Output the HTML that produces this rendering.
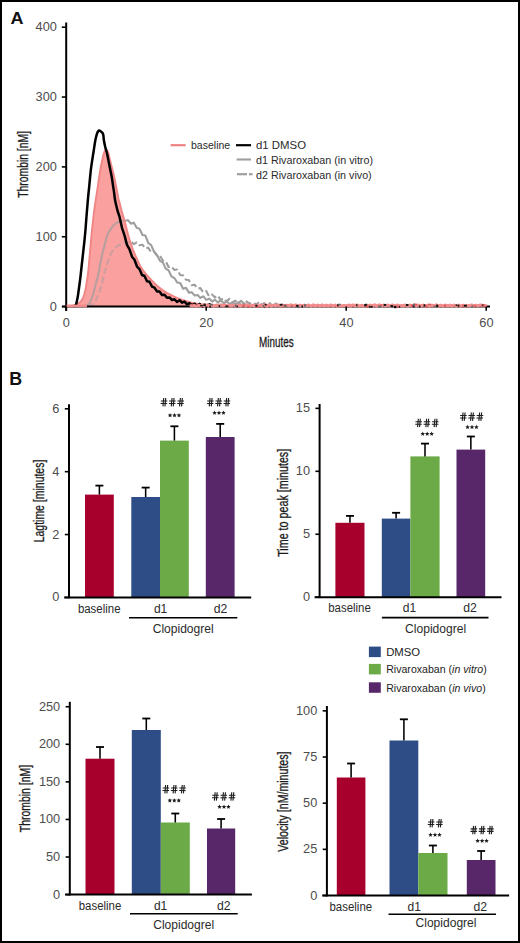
<!DOCTYPE html><html><head><meta charset="utf-8"><style>html,body{margin:0;padding:0;background:#fff;}svg{display:block;}text{font-family:"Liberation Sans",sans-serif;}</style></head><body>
<svg width="520" height="943" viewBox="0 0 520 943">
<rect x="0" y="0" width="520" height="943" fill="#fff"/>
<text x="10.4" y="23.8" font-size="17" text-anchor="start" font-weight="bold" fill="#111" textLength="13" lengthAdjust="spacingAndGlyphs">A</text>
<text x="9.3" y="384.6" font-size="17.6" text-anchor="start" font-weight="bold" fill="#111" textLength="12.9" lengthAdjust="spacingAndGlyphs">B</text>
<path d="M84.5 306.1 C84.75 306.03 85.42 305.95 86 305.7 C86.58 305.45 87.35 305.08 88 304.6 C88.65 304.12 89.3 303.8 89.9 302.8 C90.5 301.8 91.03 300.08 91.6 298.6 C92.17 297.12 92.6 296.33 93.3 293.9 C94 291.47 94.97 287.28 95.8 284 C96.63 280.72 97.57 277.48 98.3 274.2 C99.03 270.92 99.55 267.6 100.2 264.3 C100.85 261 101.45 257.68 102.2 254.4 C102.95 251.12 103.8 247.88 104.7 244.6 C105.6 241.32 106.45 237.5 107.6 234.7 C108.75 231.9 110.12 229.77 111.6 227.8 C113.08 225.83 114.88 224.03 116.5 222.9 C118.12 221.77 119.58 221.4 121.3 221 C123.02 220.6 125.88 220.58 126.8 220.5 L128 220.15 L130.9 223.63 L133.8 222.66 L136.7 227.73 L139.6 228.86 L142.5 235.05 L145.4 235.55 L148.3 243 L151.2 245.16 L154.1 251.94 L157 255 L159.9 260.82 L162.8 262.42 L165.7 268.61 L168.6 270.4 L171.5 276.43 L174.4 278.05 L177.3 282.58 L180.2 282.93 L183.1 288.73 L186 287.8 L188.9 292.64 L191.8 292.27 L194.7 295.58 L197.6 294.9 L200.5 297.9 L203.4 296.29 L206.3 299.89 L209.2 298.61 L212.1 301.56 L215 299.62 L217.9 302.63 L220.8 300.11 L223.7 303.17 L226.6 301.36 L229.5 304.1 L232.4 302.45 L235.3 304.35 L238.2 302.34 L241.1 305.33 L244 303 L246.9 305.68 L249.8 303.15 L252.7 306.88 L255.6 303.71 L258.5 307 L261.4 304.22 L264.3 307.17 L267.2 304.9 L270.1 306.95" fill="none" stroke="#9E9E9E" stroke-width="2.1" stroke-linejoin="round"/>
<path d="M88 306.1 C88.48 306.02 90.07 305.95 90.9 305.6 C91.73 305.25 92.35 304.63 93 304 C93.65 303.37 94.15 302.8 94.8 301.8 C95.45 300.8 96.23 299.32 96.9 298 C97.57 296.68 98 296.23 98.8 293.9 C99.6 291.57 100.8 287.28 101.7 284 C102.6 280.72 103.45 276.98 104.2 274.2 C104.95 271.42 105.47 269.77 106.2 267.3 C106.93 264.83 107.7 261.87 108.6 259.4 C109.5 256.93 110.28 254.63 111.6 252.5 C112.92 250.37 114.53 248.17 116.5 246.6 C118.47 245.03 122.25 243.68 123.4 243.1 L125 242.18 L127.9 243.08 L130.8 241.25 L133.7 244.15 L136.6 242.54 L139.5 245.18 L142.4 244.69 L145.3 248.4 L148.2 247.67 L151.1 252.22 L154 251.38 L156.9 255.53 L159.8 255.35 L162.7 260.41 L165.6 261.02 L168.5 266.97 L171.4 266.49 L174.3 269.92 L177.2 269.55 L180.1 274.92 L183 275.35 L185.9 279.7 L188.8 280.02 L191.7 285.26 L194.6 284.71 L197.5 288.65 L200.4 288.14 L203.3 292.52 L206.2 291.11 L209.1 296.31 L212 294.51 L214.9 297.35 L217.8 295.56 L220.7 299.95 L223.6 298.34 L226.5 301.37 L229.4 298.85 L232.3 302.53 L235.2 300.68 L238.1 303.64 L241 300.85 L243.9 303.52 L246.8 301.48 L249.7 303.98 L252.6 302.57 L255.5 304.58 L258.4 302.83 L261.3 305.34 L264.2 303.06 L267.1 306.42 L270 303.17 L272.9 306.96 L275.8 303.37 L278.7 306.96 L281.6 304.43 L284.5 306.36 L287.4 304.18" fill="none" stroke="#9E9E9E" stroke-width="2.1" stroke-dasharray="6.5 3" stroke-linejoin="round"/>
<defs><clipPath id="pk"><path d="M66 305.8 C66.83 305.78 69.42 305.83 71 305.7 C72.58 305.57 74.2 305.4 75.5 305 C76.8 304.6 77.82 304.03 78.8 303.3 C79.78 302.57 80.63 301.65 81.4 300.6 C82.17 299.55 82.72 298.85 83.4 297 C84.08 295.15 84.87 292.5 85.5 289.5 C86.13 286.5 86.72 282.25 87.2 279 C87.68 275.75 88.07 273 88.4 270 C88.73 267 88.93 264 89.2 261 C89.47 258 89.73 255 90 252 C90.27 249 90.53 246 90.8 243 C91.07 240 91.32 236.92 91.6 234 C91.88 231.08 92.18 228.45 92.5 225.5 C92.82 222.55 93.13 219.42 93.5 216.3 C93.87 213.18 94.27 209.97 94.7 206.8 C95.13 203.63 95.62 200.43 96.1 197.3 C96.58 194.17 97.12 191.22 97.6 188 C98.08 184.78 98.52 181.23 99 178 C99.48 174.77 99.97 171.6 100.5 168.6 C101.03 165.6 101.65 162.52 102.2 160 C102.75 157.48 103.35 155.07 103.8 153.5 C104.25 151.93 104.55 151.23 104.9 150.6 C105.25 149.97 105.57 149.73 105.9 149.7 C106.23 149.67 106.52 149.88 106.9 150.4 C107.28 150.92 107.65 151.07 108.2 152.8 C108.75 154.53 109.53 158.13 110.2 160.8 C110.87 163.47 111.53 166.15 112.2 168.8 C112.87 171.45 113.6 174.05 114.2 176.7 C114.8 179.35 115.28 182.05 115.8 184.7 C116.32 187.35 116.85 190.22 117.3 192.6 C117.75 194.98 118.1 197.27 118.5 199 C118.9 200.73 119.17 201.02 119.7 203 C120.23 204.98 120.98 208.25 121.7 210.9 C122.42 213.55 123.27 216.25 124 218.9 C124.73 221.55 125.42 224.15 126.1 226.8 C126.78 229.45 127.37 232.15 128.1 234.8 C128.83 237.45 129.63 240.05 130.5 242.7 C131.37 245.35 132.25 248.05 133.3 250.7 C134.35 253.35 135.62 256.02 136.8 258.6 C137.98 261.18 139.07 263.85 140.4 266.2 C141.73 268.55 142.92 270.33 144.8 272.7 C146.68 275.07 149.3 277.92 151.7 280.4 C154.1 282.88 156.82 285.6 159.2 287.6 C161.58 289.6 163.7 291 166 292.4 C168.3 293.8 170.75 294.93 173 296 C175.25 297.07 177.42 298 179.5 298.8 C181.58 299.6 183.58 300.18 185.5 300.8 C187.42 301.42 189.2 302.02 191 302.5 C192.8 302.98 193.97 303.32 196.3 303.7 C198.63 304.08 201.88 304.53 205 304.8 C208.12 305.07 209.17 305.17 215 305.3 C220.83 305.43 235.83 305.55 240 305.6 L242 304.93 L245 306.14 L248 304.65 L251 306.08 L254 304.9 L257 306.15 L260 305.09 L263 306.11 L266 304.82 L269 306.28 L272 305.14 L275 305.98 L278 305.15 L281 306.29 L284 304.78 L287 305.83 L290 304.61 L293 306.38 L296 304.81 L299 306.17 L302 305.11 L305 305.81 L308 304.88 L311 305.84 L314 305.09 L317 305.95 L320 305.18 L323 306.08 L326 304.94 L329 306.31 L332 304.89 L335 306.18 L338 304.9 L341 306.2 L344 304.93 L347 305.97 L350 304.6 L353 306.4 L356 304.7 L359 306.22 L362 305.01 L365 305.94 L368 305.03 L371 305.84 L374 304.74 L377 306.04 L380 304.69 L383 306.03 L386 304.63 L389 306.31 L392 305.2 L395 305.93 L398 304.65 L401 306.08 L404 304.61 L407 306.04 L410 305.16 L413 306.18 L416 304.73 L419 305.96 L422 305.15 L425 306 L428 304.62 L431 306.25 L434 305.13 L437 305.95 L440 305.14 L443 305.84 L446 304.72 L449 305.91 L452 304.86 L455 306.07 L458 305.09 L461 306.24 L464 305.12 L467 306.19 L470 305.13 L473 306.05 L476 305.07 L479 305.96 L482 304.62 L485 306.28 L487 306.3 L66 306.3 Z"/></clipPath></defs>
<path d="M66 305.8 C66.83 305.78 69.42 305.83 71 305.7 C72.58 305.57 74.2 305.4 75.5 305 C76.8 304.6 77.82 304.03 78.8 303.3 C79.78 302.57 80.63 301.65 81.4 300.6 C82.17 299.55 82.72 298.85 83.4 297 C84.08 295.15 84.87 292.5 85.5 289.5 C86.13 286.5 86.72 282.25 87.2 279 C87.68 275.75 88.07 273 88.4 270 C88.73 267 88.93 264 89.2 261 C89.47 258 89.73 255 90 252 C90.27 249 90.53 246 90.8 243 C91.07 240 91.32 236.92 91.6 234 C91.88 231.08 92.18 228.45 92.5 225.5 C92.82 222.55 93.13 219.42 93.5 216.3 C93.87 213.18 94.27 209.97 94.7 206.8 C95.13 203.63 95.62 200.43 96.1 197.3 C96.58 194.17 97.12 191.22 97.6 188 C98.08 184.78 98.52 181.23 99 178 C99.48 174.77 99.97 171.6 100.5 168.6 C101.03 165.6 101.65 162.52 102.2 160 C102.75 157.48 103.35 155.07 103.8 153.5 C104.25 151.93 104.55 151.23 104.9 150.6 C105.25 149.97 105.57 149.73 105.9 149.7 C106.23 149.67 106.52 149.88 106.9 150.4 C107.28 150.92 107.65 151.07 108.2 152.8 C108.75 154.53 109.53 158.13 110.2 160.8 C110.87 163.47 111.53 166.15 112.2 168.8 C112.87 171.45 113.6 174.05 114.2 176.7 C114.8 179.35 115.28 182.05 115.8 184.7 C116.32 187.35 116.85 190.22 117.3 192.6 C117.75 194.98 118.1 197.27 118.5 199 C118.9 200.73 119.17 201.02 119.7 203 C120.23 204.98 120.98 208.25 121.7 210.9 C122.42 213.55 123.27 216.25 124 218.9 C124.73 221.55 125.42 224.15 126.1 226.8 C126.78 229.45 127.37 232.15 128.1 234.8 C128.83 237.45 129.63 240.05 130.5 242.7 C131.37 245.35 132.25 248.05 133.3 250.7 C134.35 253.35 135.62 256.02 136.8 258.6 C137.98 261.18 139.07 263.85 140.4 266.2 C141.73 268.55 142.92 270.33 144.8 272.7 C146.68 275.07 149.3 277.92 151.7 280.4 C154.1 282.88 156.82 285.6 159.2 287.6 C161.58 289.6 163.7 291 166 292.4 C168.3 293.8 170.75 294.93 173 296 C175.25 297.07 177.42 298 179.5 298.8 C181.58 299.6 183.58 300.18 185.5 300.8 C187.42 301.42 189.2 302.02 191 302.5 C192.8 302.98 193.97 303.32 196.3 303.7 C198.63 304.08 201.88 304.53 205 304.8 C208.12 305.07 209.17 305.17 215 305.3 C220.83 305.43 235.83 305.55 240 305.6 L242 304.93 L245 306.14 L248 304.65 L251 306.08 L254 304.9 L257 306.15 L260 305.09 L263 306.11 L266 304.82 L269 306.28 L272 305.14 L275 305.98 L278 305.15 L281 306.29 L284 304.78 L287 305.83 L290 304.61 L293 306.38 L296 304.81 L299 306.17 L302 305.11 L305 305.81 L308 304.88 L311 305.84 L314 305.09 L317 305.95 L320 305.18 L323 306.08 L326 304.94 L329 306.31 L332 304.89 L335 306.18 L338 304.9 L341 306.2 L344 304.93 L347 305.97 L350 304.6 L353 306.4 L356 304.7 L359 306.22 L362 305.01 L365 305.94 L368 305.03 L371 305.84 L374 304.74 L377 306.04 L380 304.69 L383 306.03 L386 304.63 L389 306.31 L392 305.2 L395 305.93 L398 304.65 L401 306.08 L404 304.61 L407 306.04 L410 305.16 L413 306.18 L416 304.73 L419 305.96 L422 305.15 L425 306 L428 304.62 L431 306.25 L434 305.13 L437 305.95 L440 305.14 L443 305.84 L446 304.72 L449 305.91 L452 304.86 L455 306.07 L458 305.09 L461 306.24 L464 305.12 L467 306.19 L470 305.13 L473 306.05 L476 305.07 L479 305.96 L482 304.62 L485 306.28 L487 306.3 L66 306.3 Z" fill="#FAA09F"/>
<g clip-path="url(#pk)" opacity="0.72">
<path d="M84.5 306.1 C84.75 306.03 85.42 305.95 86 305.7 C86.58 305.45 87.35 305.08 88 304.6 C88.65 304.12 89.3 303.8 89.9 302.8 C90.5 301.8 91.03 300.08 91.6 298.6 C92.17 297.12 92.6 296.33 93.3 293.9 C94 291.47 94.97 287.28 95.8 284 C96.63 280.72 97.57 277.48 98.3 274.2 C99.03 270.92 99.55 267.6 100.2 264.3 C100.85 261 101.45 257.68 102.2 254.4 C102.95 251.12 103.8 247.88 104.7 244.6 C105.6 241.32 106.45 237.5 107.6 234.7 C108.75 231.9 110.12 229.77 111.6 227.8 C113.08 225.83 114.88 224.03 116.5 222.9 C118.12 221.77 119.58 221.4 121.3 221 C123.02 220.6 125.88 220.58 126.8 220.5 L128 220.15 L130.9 223.63 L133.8 222.66 L136.7 227.73 L139.6 228.86 L142.5 235.05 L145.4 235.55 L148.3 243 L151.2 245.16 L154.1 251.94 L157 255 L159.9 260.82 L162.8 262.42 L165.7 268.61 L168.6 270.4 L171.5 276.43 L174.4 278.05 L177.3 282.58 L180.2 282.93 L183.1 288.73 L186 287.8 L188.9 292.64 L191.8 292.27 L194.7 295.58 L197.6 294.9 L200.5 297.9 L203.4 296.29 L206.3 299.89 L209.2 298.61 L212.1 301.56 L215 299.62 L217.9 302.63 L220.8 300.11 L223.7 303.17 L226.6 301.36 L229.5 304.1 L232.4 302.45 L235.3 304.35 L238.2 302.34 L241.1 305.33 L244 303 L246.9 305.68 L249.8 303.15 L252.7 306.88 L255.6 303.71 L258.5 307 L261.4 304.22 L264.3 307.17 L267.2 304.9 L270.1 306.95" fill="none" stroke="#9E9E9E" stroke-width="2.1" stroke-linejoin="round"/>
<path d="M88 306.1 C88.48 306.02 90.07 305.95 90.9 305.6 C91.73 305.25 92.35 304.63 93 304 C93.65 303.37 94.15 302.8 94.8 301.8 C95.45 300.8 96.23 299.32 96.9 298 C97.57 296.68 98 296.23 98.8 293.9 C99.6 291.57 100.8 287.28 101.7 284 C102.6 280.72 103.45 276.98 104.2 274.2 C104.95 271.42 105.47 269.77 106.2 267.3 C106.93 264.83 107.7 261.87 108.6 259.4 C109.5 256.93 110.28 254.63 111.6 252.5 C112.92 250.37 114.53 248.17 116.5 246.6 C118.47 245.03 122.25 243.68 123.4 243.1 L125 242.18 L127.9 243.08 L130.8 241.25 L133.7 244.15 L136.6 242.54 L139.5 245.18 L142.4 244.69 L145.3 248.4 L148.2 247.67 L151.1 252.22 L154 251.38 L156.9 255.53 L159.8 255.35 L162.7 260.41 L165.6 261.02 L168.5 266.97 L171.4 266.49 L174.3 269.92 L177.2 269.55 L180.1 274.92 L183 275.35 L185.9 279.7 L188.8 280.02 L191.7 285.26 L194.6 284.71 L197.5 288.65 L200.4 288.14 L203.3 292.52 L206.2 291.11 L209.1 296.31 L212 294.51 L214.9 297.35 L217.8 295.56 L220.7 299.95 L223.6 298.34 L226.5 301.37 L229.4 298.85 L232.3 302.53 L235.2 300.68 L238.1 303.64 L241 300.85 L243.9 303.52 L246.8 301.48 L249.7 303.98 L252.6 302.57 L255.5 304.58 L258.4 302.83 L261.3 305.34 L264.2 303.06 L267.1 306.42 L270 303.17 L272.9 306.96 L275.8 303.37 L278.7 306.96 L281.6 304.43 L284.5 306.36 L287.4 304.18" fill="none" stroke="#9E9E9E" stroke-width="2.1" stroke-dasharray="6.5 3" stroke-linejoin="round" opacity="0.7"/>
</g>
<path d="M66 305.8 C66.83 305.78 69.42 305.83 71 305.7 C72.58 305.57 74.2 305.4 75.5 305 C76.8 304.6 77.82 304.03 78.8 303.3 C79.78 302.57 80.63 301.65 81.4 300.6 C82.17 299.55 82.72 298.85 83.4 297 C84.08 295.15 84.87 292.5 85.5 289.5 C86.13 286.5 86.72 282.25 87.2 279 C87.68 275.75 88.07 273 88.4 270 C88.73 267 88.93 264 89.2 261 C89.47 258 89.73 255 90 252 C90.27 249 90.53 246 90.8 243 C91.07 240 91.32 236.92 91.6 234 C91.88 231.08 92.18 228.45 92.5 225.5 C92.82 222.55 93.13 219.42 93.5 216.3 C93.87 213.18 94.27 209.97 94.7 206.8 C95.13 203.63 95.62 200.43 96.1 197.3 C96.58 194.17 97.12 191.22 97.6 188 C98.08 184.78 98.52 181.23 99 178 C99.48 174.77 99.97 171.6 100.5 168.6 C101.03 165.6 101.65 162.52 102.2 160 C102.75 157.48 103.35 155.07 103.8 153.5 C104.25 151.93 104.55 151.23 104.9 150.6 C105.25 149.97 105.57 149.73 105.9 149.7 C106.23 149.67 106.52 149.88 106.9 150.4 C107.28 150.92 107.65 151.07 108.2 152.8 C108.75 154.53 109.53 158.13 110.2 160.8 C110.87 163.47 111.53 166.15 112.2 168.8 C112.87 171.45 113.6 174.05 114.2 176.7 C114.8 179.35 115.28 182.05 115.8 184.7 C116.32 187.35 116.85 190.22 117.3 192.6 C117.75 194.98 118.1 197.27 118.5 199 C118.9 200.73 119.17 201.02 119.7 203 C120.23 204.98 120.98 208.25 121.7 210.9 C122.42 213.55 123.27 216.25 124 218.9 C124.73 221.55 125.42 224.15 126.1 226.8 C126.78 229.45 127.37 232.15 128.1 234.8 C128.83 237.45 129.63 240.05 130.5 242.7 C131.37 245.35 132.25 248.05 133.3 250.7 C134.35 253.35 135.62 256.02 136.8 258.6 C137.98 261.18 139.07 263.85 140.4 266.2 C141.73 268.55 142.92 270.33 144.8 272.7 C146.68 275.07 149.3 277.92 151.7 280.4 C154.1 282.88 156.82 285.6 159.2 287.6 C161.58 289.6 163.7 291 166 292.4 C168.3 293.8 170.75 294.93 173 296 C175.25 297.07 177.42 298 179.5 298.8 C181.58 299.6 183.58 300.18 185.5 300.8 C187.42 301.42 189.2 302.02 191 302.5 C192.8 302.98 193.97 303.32 196.3 303.7 C198.63 304.08 201.88 304.53 205 304.8 C208.12 305.07 209.17 305.17 215 305.3 C220.83 305.43 235.83 305.55 240 305.6 L242 304.93 L245 306.14 L248 304.65 L251 306.08 L254 304.9 L257 306.15 L260 305.09 L263 306.11 L266 304.82 L269 306.28 L272 305.14 L275 305.98 L278 305.15 L281 306.29 L284 304.78 L287 305.83 L290 304.61 L293 306.38 L296 304.81 L299 306.17 L302 305.11 L305 305.81 L308 304.88 L311 305.84 L314 305.09 L317 305.95 L320 305.18 L323 306.08 L326 304.94 L329 306.31 L332 304.89 L335 306.18 L338 304.9 L341 306.2 L344 304.93 L347 305.97 L350 304.6 L353 306.4 L356 304.7 L359 306.22 L362 305.01 L365 305.94 L368 305.03 L371 305.84 L374 304.74 L377 306.04 L380 304.69 L383 306.03 L386 304.63 L389 306.31 L392 305.2 L395 305.93 L398 304.65 L401 306.08 L404 304.61 L407 306.04 L410 305.16 L413 306.18 L416 304.73 L419 305.96 L422 305.15 L425 306 L428 304.62 L431 306.25 L434 305.13 L437 305.95 L440 305.14 L443 305.84 L446 304.72 L449 305.91 L452 304.86 L455 306.07 L458 305.09 L461 306.24 L464 305.12 L467 306.19 L470 305.13 L473 306.05 L476 305.07 L479 305.96 L482 304.62 L485 306.28" fill="none" stroke="#EF8585" stroke-width="1.9" stroke-linejoin="round"/>
<path d="M73.5 306.2 C73.75 306.13 74.57 306.12 75 305.8 C75.43 305.48 75.65 305.77 76.1 304.3 C76.55 302.83 77.22 299.72 77.7 297 C78.18 294.28 78.58 291 79 288 C79.42 285 79.83 282 80.2 279 C80.57 276 80.87 273 81.2 270 C81.53 267 81.87 264 82.2 261 C82.53 258 82.87 255 83.2 252 C83.53 249 83.88 246 84.2 243 C84.52 240 84.83 236.85 85.1 234 C85.37 231.15 85.57 228.85 85.8 225.9 C86.03 222.95 86.25 219.48 86.5 216.3 C86.75 213.12 87.03 209.97 87.3 206.8 C87.57 203.63 87.8 200.48 88.1 197.3 C88.4 194.12 88.78 190.88 89.1 187.7 C89.42 184.52 89.68 181.38 90 178.2 C90.32 175.02 90.6 171.78 91 168.6 C91.4 165.42 91.92 162.28 92.4 159.1 C92.88 155.92 93.42 152.6 93.9 149.5 C94.38 146.4 94.83 142.98 95.3 140.5 C95.77 138.02 96.25 136.1 96.7 134.6 C97.15 133.1 97.6 132.17 98 131.5 C98.4 130.83 98.67 130.65 99.1 130.6 C99.53 130.55 100.05 130.83 100.6 131.2 C101.15 131.57 101.95 132.17 102.4 132.8 C102.85 133.43 103.05 133.75 103.3 135 C103.55 136.25 103.57 138.25 103.9 140.3 C104.23 142.35 104.8 145.22 105.3 147.3 C105.8 149.38 106.37 150.55 106.9 152.8 C107.43 155.05 107.97 158.13 108.5 160.8 C109.03 163.47 109.57 166.15 110.1 168.8 C110.63 171.45 111.23 174.05 111.7 176.7 C112.17 179.35 112.5 182.05 112.9 184.7 C113.3 187.35 113.77 190.22 114.1 192.6 C114.43 194.98 114.62 197.18 114.9 199 C115.18 200.82 115.35 201.5 115.8 203.5 C116.25 205.5 117.3 209.75 117.6 211 L119.5 216.73 L122 227.87 L124.5 235.36 L127 244.95 L129.5 249.3 L132 256.72 L134.5 259.73 L137 266.68 L139.5 269.13 L142 275.01 L144.5 275.99 L147 281.19 L149.5 281.8 L152 286.65 L154.5 287.71 L157 291.38 L159.5 291.45 L162 294.9 L164.5 294.65 L167 297.84 L169.5 297.47 L172 300.07 L174.5 299.32 L177 301.92 L179.5 300.2 L182 302.73 L184.5 301.61 L187 304.36 L189.5 303.22 L192 305.13 L194.5 303.8 L197 305.93 L199.5 303.87 L202 306.4 L204.5 304.65 L207 305.97 L209.5 304.31 L212 306.4" fill="none" stroke="#000" stroke-width="2.5" stroke-linejoin="round"/>
<line x1="66.2" y1="22.5" x2="66.2" y2="311" stroke="#000" stroke-width="2"/>
<line x1="62" y1="306.6" x2="490" y2="306.6" stroke="#000" stroke-width="2"/>
<path d="M190 305.23 L192.2 306.1 L194.4 305.27 L196.6 306.26 L198.8 305.23 L201 306.13 L203.2 304.89 L205.4 306.05 L207.6 304.87 L209.8 306.22 L212 305.08 L214.2 306.16 L216.4 305.06 L218.6 306.03 L220.8 304.85 L223 306.05 L225.2 304.86 L227.4 306.28 L229.6 305.34 L231.8 305.98 L234 305.11 L236.2 306.26 L238.4 305.26 L240.6 306.16 L242.8 305.17 L245 306.24 L247.2 304.89 L249.4 306.23 L251.6 305.25 L253.8 306.23 L256 305.13 L258.2 306.27 L260.4 305.11 L262.6 306.3 L264.8 304.86 L267 306.26 L269.2 304.94 L271.4 306.26 L273.6 305.05 L275.8 305.94 L278 304.86 L280.2 306.08 L282.4 305.34 L284.6 306.07 L286.8 305.14 L289 305.95 L291.2 304.87 L293.4 305.91 L295.6 304.9 L297.8 306.12 L300 305.26 L302.2 306.03 L304.4 305.12 L306.6 305.91 L308.8 304.97 L311 306.18 L313.2 304.86 L315.4 306.26 L317.6 304.96 L319.8 306.35 L322 304.88 L324.2 306.17 L326.4 305.08 L328.6 306.11 L330.8 304.94 L333 306.31 L335.2 304.93 L337.4 306.27 L339.6 305.34 L341.8 306.06 L344 305.31 L346.2 306.14 L348.4 305.06 L350.6 306.13 L352.8 304.92 L355 305.96 L357.2 304.99 L359.4 306.14 L361.6 305.24 L363.8 306.34 L366 305.32 L368.2 306.08 L370.4 305.08 L372.6 306.15 L374.8 304.86 L377 306.13 L379.2 304.91 L381.4 306 L383.6 305.11 L385.8 305.92 L388 305.03 L390.2 306.06 L392.4 304.96 L394.6 305.91 L396.8 305.12 L399 306.33 L401.2 305.34 L403.4 306.18 L405.6 305.01 L407.8 306.21 L410 305.07 L412.2 306.1 L414.4 304.87 L416.6 305.99 L418.8 305 L421 306.18 L423.2 304.99 L425.4 306.09 L427.6 305.34 L429.8 306.24 L432 305.21 L434.2 306.24 L436.4 304.86 L438.6 306.24 L440.8 305.15 L443 306.28 L445.2 305.16 L447.4 306.01 L449.6 305.06 L451.8 306.18 L454 305.01 L456.2 306.13 L458.4 305.15 L460.6 306.22 L462.8 305.19 L465 306.15 L467.2 305.35 L469.4 305.92 L471.6 304.92 L473.8 305.96 L476 305.14 L478.2 305.88 L480.4 304.97 L482.6 306.01 L484.8 305.33 L487 305.99" fill="none" stroke="#F28C8C" stroke-width="3" stroke-linejoin="round"/>
<path d="M66.5 306 L87 305.9" stroke="#F28C8C" stroke-width="2.6"/>
<rect x="378.15" y="305.51" width="3.09" height="2.14" fill="#666"/>
<rect x="463.78" y="304.72" width="3.09" height="2.05" fill="#111"/>
<rect x="457.66" y="304.73" width="1.77" height="1.94" fill="#111"/>
<rect x="364.15" y="304.12" width="1.83" height="2.32" fill="#111"/>
<rect x="419" y="305.51" width="1.56" height="2.02" fill="#111"/>
<rect x="236.24" y="305.69" width="1.7" height="1.62" fill="#111"/>
<rect x="480.97" y="304.29" width="3.13" height="1.94" fill="#D95F5F"/>
<rect x="393.86" y="305.86" width="2.61" height="2.37" fill="#111"/>
<rect x="455.61" y="304.47" width="1.62" height="1.55" fill="#111"/>
<rect x="218.63" y="305.05" width="1.31" height="2.08" fill="#111"/>
<rect x="296.64" y="305.56" width="2.21" height="1.72" fill="#111"/>
<rect x="337.63" y="303.74" width="3.15" height="1.42" fill="#666"/>
<rect x="414.44" y="303.64" width="2.8" height="1.77" fill="#D95F5F"/>
<rect x="365.46" y="303.71" width="1.64" height="2.36" fill="#111"/>
<rect x="256.21" y="305.83" width="3.09" height="1.74" fill="#D95F5F"/>
<rect x="301.47" y="305.46" width="1.51" height="2.15" fill="#111"/>
<rect x="428.01" y="303.69" width="3.1" height="1.49" fill="#D95F5F"/>
<rect x="297.45" y="305.8" width="1.95" height="2.32" fill="#666"/>
<rect x="355.91" y="304.36" width="1.64" height="1.48" fill="#111"/>
<rect x="242.58" y="305.99" width="1.61" height="1.45" fill="#666"/>
<rect x="482.2" y="304.57" width="1.75" height="1.99" fill="#111"/>
<rect x="436.32" y="304.61" width="1.41" height="2.32" fill="#111"/>
<rect x="209.36" y="305.61" width="1.55" height="2.13" fill="#111"/>
<rect x="471.64" y="305.49" width="1.5" height="1.83" fill="#666"/>
<rect x="242.68" y="304.31" width="2.16" height="2.4" fill="#D95F5F"/>
<rect x="443.74" y="304.69" width="2.23" height="2.13" fill="#D95F5F"/>
<rect x="337.01" y="304.57" width="1.58" height="1.78" fill="#111"/>
<rect x="482.68" y="305.1" width="2.25" height="1.74" fill="#D95F5F"/>
<rect x="225.49" y="305.48" width="2.95" height="1.76" fill="#111"/>
<rect x="424.8" y="305.27" width="2.56" height="2.16" fill="#D95F5F"/>
<rect x="303.94" y="304.27" width="2.22" height="2.17" fill="#666"/>
<rect x="397.59" y="305.87" width="2.53" height="1.98" fill="#111"/>
<rect x="203.31" y="304.2" width="2.58" height="1.86" fill="#111"/>
<rect x="433.57" y="305.51" width="1.96" height="2.04" fill="#666"/>
<rect x="411.02" y="304.44" width="2.9" height="2.27" fill="#D95F5F"/>
<rect x="396.86" y="305.9" width="2.28" height="1.93" fill="#D95F5F"/>
<rect x="247.53" y="305.85" width="2.21" height="2.09" fill="#D95F5F"/>
<rect x="405.83" y="304.01" width="2.78" height="1.98" fill="#666"/>
<rect x="390.35" y="305.1" width="2.77" height="2.04" fill="#111"/>
<rect x="406.04" y="303.98" width="2.14" height="2.05" fill="#111"/>
<rect x="262.64" y="305.11" width="1.38" height="1.87" fill="#666"/>
<rect x="264.71" y="303.92" width="1.9" height="1.58" fill="#111"/>
<rect x="255.3" y="304.72" width="2.02" height="2.01" fill="#111"/>
<rect x="368.79" y="305.77" width="1.3" height="1.81" fill="#111"/>
<rect x="279.66" y="303.88" width="2.88" height="1.77" fill="#111"/>
<rect x="210.31" y="303.83" width="2.34" height="1.74" fill="#666"/>
<rect x="366.14" y="305.56" width="2.1" height="2.21" fill="#D95F5F"/>
<rect x="383.7" y="303.94" width="2.43" height="1.96" fill="#111"/>
<rect x="473.76" y="305.06" width="1.97" height="2.29" fill="#D95F5F"/>
<rect x="200.27" y="304.96" width="2.47" height="1.54" fill="#111"/>
<rect x="380.02" y="304.5" width="2.12" height="1.63" fill="#D95F5F"/>
<rect x="283.37" y="304.51" width="3.13" height="2.31" fill="#D95F5F"/>
<rect x="370.4" y="305.95" width="2.24" height="1.82" fill="#111"/>
<rect x="291.28" y="304.78" width="1.84" height="1.88" fill="#D95F5F"/>
<rect x="234.86" y="304.66" width="1.86" height="2.18" fill="#666"/>
<rect x="436.47" y="304.88" width="1.82" height="2.34" fill="#111"/>
<rect x="423.63" y="304.24" width="1.59" height="2.39" fill="#111"/>
<rect x="283.85" y="304.74" width="2.53" height="2" fill="#666"/>
<rect x="412.63" y="305.42" width="1.87" height="1.93" fill="#111"/>
<rect x="296.13" y="304.87" width="2.18" height="1.76" fill="#111"/>
<rect x="413.07" y="303.69" width="1.78" height="1.86" fill="#666"/>
<rect x="462.14" y="304.91" width="1.33" height="2.18" fill="#D95F5F"/>
<line x1="61.8" y1="27.2" x2="66.2" y2="27.2" stroke="#000" stroke-width="1.6"/>
<text x="56.9" y="31.2" font-size="12.2" text-anchor="end" font-weight="normal" fill="#4d4d4d" textLength="21.3" lengthAdjust="spacingAndGlyphs">400</text>
<line x1="61.8" y1="97.05" x2="66.2" y2="97.05" stroke="#000" stroke-width="1.6"/>
<text x="56.9" y="101.05" font-size="12.2" text-anchor="end" font-weight="normal" fill="#4d4d4d" textLength="21.3" lengthAdjust="spacingAndGlyphs">300</text>
<line x1="61.8" y1="166.9" x2="66.2" y2="166.9" stroke="#000" stroke-width="1.6"/>
<text x="56.9" y="170.9" font-size="12.2" text-anchor="end" font-weight="normal" fill="#4d4d4d" textLength="21.3" lengthAdjust="spacingAndGlyphs">200</text>
<line x1="61.8" y1="236.75" x2="66.2" y2="236.75" stroke="#000" stroke-width="1.6"/>
<text x="56.9" y="240.75" font-size="12.2" text-anchor="end" font-weight="normal" fill="#4d4d4d" textLength="21.3" lengthAdjust="spacingAndGlyphs">100</text>
<line x1="61.8" y1="306.6" x2="66.2" y2="306.6" stroke="#000" stroke-width="1.6"/>
<text x="56.9" y="310.6" font-size="12.2" text-anchor="end" font-weight="normal" fill="#4d4d4d" textLength="7.1" lengthAdjust="spacingAndGlyphs">0</text>
<line x1="66.2" y1="306.6" x2="66.2" y2="310.8" stroke="#000" stroke-width="1.6"/>
<text x="66.4" y="326.5" font-size="12.2" text-anchor="middle" font-weight="normal" fill="#4d4d4d" textLength="7.1" lengthAdjust="spacingAndGlyphs">0</text>
<line x1="206.2" y1="306.6" x2="206.2" y2="310.8" stroke="#000" stroke-width="1.6"/>
<text x="206.4" y="326.5" font-size="12.2" text-anchor="middle" font-weight="normal" fill="#4d4d4d" textLength="14.2" lengthAdjust="spacingAndGlyphs">20</text>
<line x1="346.2" y1="306.6" x2="346.2" y2="310.8" stroke="#000" stroke-width="1.6"/>
<text x="346.4" y="326.5" font-size="12.2" text-anchor="middle" font-weight="normal" fill="#4d4d4d" textLength="14.2" lengthAdjust="spacingAndGlyphs">40</text>
<line x1="486.2" y1="306.6" x2="486.2" y2="310.8" stroke="#000" stroke-width="1.6"/>
<text x="486.4" y="326.5" font-size="12.2" text-anchor="middle" font-weight="normal" fill="#4d4d4d" textLength="14.2" lengthAdjust="spacingAndGlyphs">60</text>
<text x="276.3" y="346.5" font-size="14.4" text-anchor="middle" font-weight="normal" fill="#1a1a1a" textLength="34.6" lengthAdjust="spacingAndGlyphs" stroke="#1a1a1a" stroke-width="0.3">Minutes</text>
<text transform="translate(27.6 164.4) rotate(-90)" x="0" y="0" font-size="14.2" text-anchor="middle" fill="#1a1a1a" stroke="#1a1a1a" stroke-width="0.3" textLength="66.8" lengthAdjust="spacingAndGlyphs">Thrombin [nM]</text>
<line x1="170.6" y1="145.2" x2="185.6" y2="145.2" stroke="#EE8282" stroke-width="2.2"/>
<text x="191" y="149.4" font-size="11.2" text-anchor="start" font-weight="normal" fill="#2a2a2a" textLength="39.2" lengthAdjust="spacingAndGlyphs">baseline</text>
<line x1="236" y1="145.2" x2="251" y2="145.2" stroke="#000" stroke-width="2.2"/>
<text x="256" y="149.4" font-size="11.2" text-anchor="start" font-weight="normal" fill="#2a2a2a" textLength="50" lengthAdjust="spacingAndGlyphs">d1 DMSO</text>
<line x1="236.6" y1="159.5" x2="251" y2="159.5" stroke="#9E9E9E" stroke-width="2.1"/>
<text x="256" y="163.9" font-size="11.2" text-anchor="start" font-weight="normal" fill="#2a2a2a" textLength="117" lengthAdjust="spacingAndGlyphs">d1 Rivaroxaban (in vitro)</text>
<line x1="236.9" y1="174.2" x2="247" y2="174.2" stroke="#9E9E9E" stroke-width="2.2"/>
<line x1="249" y1="174.2" x2="252.5" y2="174.2" stroke="#9E9E9E" stroke-width="2.2"/>
<text x="256" y="178.8" font-size="11.2" text-anchor="start" font-weight="normal" fill="#2a2a2a" textLength="115.7" lengthAdjust="spacingAndGlyphs">d2 Rivaroxaban (in vivo)</text>
<rect x="85" y="494.6" width="28.8" height="102.8" fill="#A8002D"/>
<rect x="131.3" y="497" width="28.7" height="100.4" fill="#2E4D86"/>
<rect x="160" y="440.6" width="28.8" height="156.8" fill="#6BAA47"/>
<rect x="205.8" y="437" width="28.8" height="160.4" fill="#57276A"/>
<line x1="99.4" y1="494.6" x2="99.4" y2="485.6" stroke="#000" stroke-width="1.55"/>
<line x1="95.4" y1="485.6" x2="103.4" y2="485.6" stroke="#000" stroke-width="1.8"/>
<line x1="145.65" y1="497" x2="145.65" y2="487.6" stroke="#000" stroke-width="1.55"/>
<line x1="141.65" y1="487.6" x2="149.65" y2="487.6" stroke="#000" stroke-width="1.8"/>
<line x1="174.4" y1="440.6" x2="174.4" y2="426.3" stroke="#000" stroke-width="1.55"/>
<line x1="170.4" y1="426.3" x2="178.4" y2="426.3" stroke="#000" stroke-width="1.8"/>
<line x1="220.2" y1="437" x2="220.2" y2="423.9" stroke="#000" stroke-width="1.55"/>
<line x1="216.2" y1="423.9" x2="224.2" y2="423.9" stroke="#000" stroke-width="1.8"/>
<line x1="69" y1="404.2" x2="69" y2="598.3" stroke="#000" stroke-width="2"/>
<line x1="64.2" y1="597.4" x2="251.2" y2="597.4" stroke="#000" stroke-width="2"/>
<line x1="64.8" y1="408.82" x2="69" y2="408.82" stroke="#000" stroke-width="1.6"/>
<text x="59.4" y="412.82" font-size="12.2" text-anchor="end" font-weight="normal" fill="#4d4d4d" textLength="7.1" lengthAdjust="spacingAndGlyphs">6</text>
<line x1="64.8" y1="471.68" x2="69" y2="471.68" stroke="#000" stroke-width="1.6"/>
<text x="59.4" y="475.68" font-size="12.2" text-anchor="end" font-weight="normal" fill="#4d4d4d" textLength="7.1" lengthAdjust="spacingAndGlyphs">4</text>
<line x1="64.8" y1="534.54" x2="69" y2="534.54" stroke="#000" stroke-width="1.6"/>
<text x="59.4" y="538.54" font-size="12.2" text-anchor="end" font-weight="normal" fill="#4d4d4d" textLength="7.1" lengthAdjust="spacingAndGlyphs">2</text>
<line x1="64.8" y1="597.4" x2="69" y2="597.4" stroke="#000" stroke-width="1.6"/>
<text x="59.4" y="601.4" font-size="12.2" text-anchor="end" font-weight="normal" fill="#4d4d4d" textLength="7.1" lengthAdjust="spacingAndGlyphs">0</text>
<text x="99.2" y="612.6" font-size="12" text-anchor="middle" font-weight="normal" fill="#2a2a2a" textLength="42.6" lengthAdjust="spacingAndGlyphs">baseline</text>
<text x="160.6" y="612.6" font-size="12" text-anchor="middle" font-weight="normal" fill="#2a2a2a" textLength="13.4" lengthAdjust="spacingAndGlyphs">d1</text>
<text x="220.6" y="612.6" font-size="12" text-anchor="middle" font-weight="normal" fill="#2a2a2a" textLength="13.6" lengthAdjust="spacingAndGlyphs">d2</text>
<line x1="129" y1="617.8" x2="237.3" y2="617.8" stroke="#000" stroke-width="1.6"/>
<text x="183.2" y="633" font-size="12" text-anchor="middle" font-weight="normal" fill="#2a2a2a" textLength="61" lengthAdjust="spacingAndGlyphs">Clopidogrel</text>
<path d="M163.75 398 L162.95 406.4 M165.75 398 L164.95 406.4 M160.85 401 L167.35 401 M160.65 403.5 L167.15 403.5 M172.05 398 L171.25 406.4 M174.05 398 L173.25 406.4 M169.15 401 L175.65 401 M168.95 403.5 L175.45 403.5 M180.35 398 L179.55 406.4 M182.35 398 L181.55 406.4 M177.45 401 L183.95 401 M177.25 403.5 L183.75 403.5 " stroke="#1e1e1e" stroke-width="1.15" fill="none"/>
<polygon points="170.05,412.95 170.71,414.39 172.28,414.57 171.12,415.65 171.43,417.2 170.05,416.43 168.67,417.2 168.98,415.65 167.82,414.57 169.39,414.39" fill="#1e1e1e"/>
<polygon points="174.5,412.95 175.16,414.39 176.73,414.57 175.57,415.65 175.88,417.2 174.5,416.43 173.12,417.2 173.43,415.65 172.27,414.57 173.84,414.39" fill="#1e1e1e"/>
<polygon points="178.95,412.95 179.61,414.39 181.18,414.57 180.02,415.65 180.33,417.2 178.95,416.43 177.57,417.2 177.88,415.65 176.72,414.57 178.29,414.39" fill="#1e1e1e"/>
<path d="M210.05 398 L209.25 406.4 M212.05 398 L211.25 406.4 M207.15 401 L213.65 401 M206.95 403.5 L213.45 403.5 M218.35 398 L217.55 406.4 M220.35 398 L219.55 406.4 M215.45 401 L221.95 401 M215.25 403.5 L221.75 403.5 M226.65 398 L225.85 406.4 M228.65 398 L227.85 406.4 M223.75 401 L230.25 401 M223.55 403.5 L230.05 403.5 " stroke="#1e1e1e" stroke-width="1.15" fill="none"/>
<polygon points="214.55,410.55 215.21,411.99 216.78,412.17 215.62,413.25 215.93,414.8 214.55,414.03 213.17,414.8 213.48,413.25 212.32,412.17 213.89,411.99" fill="#1e1e1e"/>
<polygon points="219,410.55 219.66,411.99 221.23,412.17 220.07,413.25 220.38,414.8 219,414.03 217.62,414.8 217.93,413.25 216.77,412.17 218.34,411.99" fill="#1e1e1e"/>
<polygon points="223.45,410.55 224.11,411.99 225.68,412.17 224.52,413.25 224.83,414.8 223.45,414.03 222.07,414.8 222.38,413.25 221.22,412.17 222.79,411.99" fill="#1e1e1e"/>
<text transform="translate(43.9 501) rotate(-90)" x="0" y="0" font-size="14" text-anchor="middle" fill="#1a1a1a" stroke="#1a1a1a" stroke-width="0.3" textLength="82.7" lengthAdjust="spacingAndGlyphs">Lagtime [minutes]</text>
<rect x="335.4" y="522.8" width="29.1" height="74.4" fill="#A8002D"/>
<rect x="381.8" y="518.6" width="28.6" height="78.6" fill="#2E4D86"/>
<rect x="410.4" y="456.4" width="29.2" height="140.8" fill="#6BAA47"/>
<rect x="456.5" y="449.6" width="28.7" height="147.6" fill="#57276A"/>
<line x1="349.95" y1="522.8" x2="349.95" y2="515.9" stroke="#000" stroke-width="1.55"/>
<line x1="345.95" y1="515.9" x2="353.95" y2="515.9" stroke="#000" stroke-width="1.8"/>
<line x1="396.1" y1="518.6" x2="396.1" y2="512.8" stroke="#000" stroke-width="1.55"/>
<line x1="392.1" y1="512.8" x2="400.1" y2="512.8" stroke="#000" stroke-width="1.8"/>
<line x1="425" y1="456.4" x2="425" y2="443.6" stroke="#000" stroke-width="1.55"/>
<line x1="421" y1="443.6" x2="429" y2="443.6" stroke="#000" stroke-width="1.8"/>
<line x1="470.85" y1="449.6" x2="470.85" y2="436.5" stroke="#000" stroke-width="1.55"/>
<line x1="466.85" y1="436.5" x2="474.85" y2="436.5" stroke="#000" stroke-width="1.8"/>
<line x1="319.6" y1="404" x2="319.6" y2="598.1" stroke="#000" stroke-width="2"/>
<line x1="314.6" y1="597.2" x2="501.5" y2="597.2" stroke="#000" stroke-width="2"/>
<line x1="315.4" y1="408.35" x2="319.6" y2="408.35" stroke="#000" stroke-width="1.6"/>
<text x="310" y="412.35" font-size="12.2" text-anchor="end" font-weight="normal" fill="#4d4d4d" textLength="14.2" lengthAdjust="spacingAndGlyphs">15</text>
<line x1="315.4" y1="471.3" x2="319.6" y2="471.3" stroke="#000" stroke-width="1.6"/>
<text x="310" y="475.3" font-size="12.2" text-anchor="end" font-weight="normal" fill="#4d4d4d" textLength="14.2" lengthAdjust="spacingAndGlyphs">10</text>
<line x1="315.4" y1="534.25" x2="319.6" y2="534.25" stroke="#000" stroke-width="1.6"/>
<text x="310" y="538.25" font-size="12.2" text-anchor="end" font-weight="normal" fill="#4d4d4d" textLength="7.1" lengthAdjust="spacingAndGlyphs">5</text>
<line x1="315.4" y1="597.2" x2="319.6" y2="597.2" stroke="#000" stroke-width="1.6"/>
<text x="310" y="601.2" font-size="12.2" text-anchor="end" font-weight="normal" fill="#4d4d4d" textLength="7.1" lengthAdjust="spacingAndGlyphs">0</text>
<text x="349.5" y="612.2" font-size="12" text-anchor="middle" font-weight="normal" fill="#2a2a2a" textLength="42.6" lengthAdjust="spacingAndGlyphs">baseline</text>
<text x="409.4" y="612.2" font-size="12" text-anchor="middle" font-weight="normal" fill="#2a2a2a" textLength="13.4" lengthAdjust="spacingAndGlyphs">d1</text>
<text x="470" y="612.2" font-size="12" text-anchor="middle" font-weight="normal" fill="#2a2a2a" textLength="13.6" lengthAdjust="spacingAndGlyphs">d2</text>
<line x1="381.9" y1="617.6" x2="488.5" y2="617.6" stroke="#000" stroke-width="1.6"/>
<text x="435.6" y="632.8" font-size="12" text-anchor="middle" font-weight="normal" fill="#2a2a2a" textLength="61" lengthAdjust="spacingAndGlyphs">Clopidogrel</text>
<path d="M418.35 418.7 L417.55 427.1 M420.35 418.7 L419.55 427.1 M415.45 421.7 L421.95 421.7 M415.25 424.2 L421.75 424.2 M426.65 418.7 L425.85 427.1 M428.65 418.7 L427.85 427.1 M423.75 421.7 L430.25 421.7 M423.55 424.2 L430.05 424.2 M434.95 418.7 L434.15 427.1 M436.95 418.7 L436.15 427.1 M432.05 421.7 L438.55 421.7 M431.85 424.2 L438.35 424.2 " stroke="#1e1e1e" stroke-width="1.15" fill="none"/>
<polygon points="422.75,431.45 423.41,432.89 424.98,433.07 423.82,434.15 424.13,435.7 422.75,434.93 421.37,435.7 421.68,434.15 420.52,433.07 422.09,432.89" fill="#1e1e1e"/>
<polygon points="427.2,431.45 427.86,432.89 429.43,433.07 428.27,434.15 428.58,435.7 427.2,434.93 425.82,435.7 426.13,434.15 424.97,433.07 426.54,432.89" fill="#1e1e1e"/>
<polygon points="431.65,431.45 432.31,432.89 433.88,433.07 432.72,434.15 433.03,435.7 431.65,434.93 430.27,435.7 430.58,434.15 429.42,433.07 430.99,432.89" fill="#1e1e1e"/>
<path d="M463.05 412.5 L462.25 420.9 M465.05 412.5 L464.25 420.9 M460.15 415.5 L466.65 415.5 M459.95 418 L466.45 418 M471.35 412.5 L470.55 420.9 M473.35 412.5 L472.55 420.9 M468.45 415.5 L474.95 415.5 M468.25 418 L474.75 418 M479.65 412.5 L478.85 420.9 M481.65 412.5 L480.85 420.9 M476.75 415.5 L483.25 415.5 M476.55 418 L483.05 418 " stroke="#1e1e1e" stroke-width="1.15" fill="none"/>
<polygon points="467.55,424.85 468.21,426.29 469.78,426.47 468.62,427.55 468.93,429.1 467.55,428.33 466.17,429.1 466.48,427.55 465.32,426.47 466.89,426.29" fill="#1e1e1e"/>
<polygon points="472,424.85 472.66,426.29 474.23,426.47 473.07,427.55 473.38,429.1 472,428.33 470.62,429.1 470.93,427.55 469.77,426.47 471.34,426.29" fill="#1e1e1e"/>
<polygon points="476.45,424.85 477.11,426.29 478.68,426.47 477.52,427.55 477.83,429.1 476.45,428.33 475.07,429.1 475.38,427.55 474.22,426.47 475.79,426.29" fill="#1e1e1e"/>
<text transform="translate(288.4 502.8) rotate(-90)" x="0" y="0" font-size="14" text-anchor="middle" fill="#1a1a1a" stroke="#1a1a1a" stroke-width="0.3" textLength="108" lengthAdjust="spacingAndGlyphs">Time to peak [minutes]</text>
<rect x="85.5" y="758.7" width="29" height="135.9" fill="#A8002D"/>
<rect x="131.8" y="730" width="29" height="164.6" fill="#2E4D86"/>
<rect x="160.8" y="822.5" width="29" height="72.1" fill="#6BAA47"/>
<rect x="207" y="828.5" width="28.2" height="66.1" fill="#57276A"/>
<line x1="100" y1="758.7" x2="100" y2="747" stroke="#000" stroke-width="1.55"/>
<line x1="96" y1="747" x2="104" y2="747" stroke="#000" stroke-width="1.8"/>
<line x1="146.3" y1="730" x2="146.3" y2="718.5" stroke="#000" stroke-width="1.55"/>
<line x1="142.3" y1="718.5" x2="150.3" y2="718.5" stroke="#000" stroke-width="1.8"/>
<line x1="175.3" y1="822.5" x2="175.3" y2="813.5" stroke="#000" stroke-width="1.55"/>
<line x1="171.3" y1="813.5" x2="179.3" y2="813.5" stroke="#000" stroke-width="1.8"/>
<line x1="221.1" y1="828.5" x2="221.1" y2="819" stroke="#000" stroke-width="1.55"/>
<line x1="217.1" y1="819" x2="225.1" y2="819" stroke="#000" stroke-width="1.8"/>
<line x1="69.8" y1="701.8" x2="69.8" y2="895.5" stroke="#000" stroke-width="2"/>
<line x1="65.1" y1="894.6" x2="251.9" y2="894.6" stroke="#000" stroke-width="2"/>
<line x1="65.6" y1="706.73" x2="69.8" y2="706.73" stroke="#000" stroke-width="1.6"/>
<text x="60.2" y="710.73" font-size="12.2" text-anchor="end" font-weight="normal" fill="#4d4d4d" textLength="21.3" lengthAdjust="spacingAndGlyphs">250</text>
<line x1="65.6" y1="744.3" x2="69.8" y2="744.3" stroke="#000" stroke-width="1.6"/>
<text x="60.2" y="748.3" font-size="12.2" text-anchor="end" font-weight="normal" fill="#4d4d4d" textLength="21.3" lengthAdjust="spacingAndGlyphs">200</text>
<line x1="65.6" y1="781.88" x2="69.8" y2="781.88" stroke="#000" stroke-width="1.6"/>
<text x="60.2" y="785.88" font-size="12.2" text-anchor="end" font-weight="normal" fill="#4d4d4d" textLength="21.3" lengthAdjust="spacingAndGlyphs">150</text>
<line x1="65.6" y1="819.45" x2="69.8" y2="819.45" stroke="#000" stroke-width="1.6"/>
<text x="60.2" y="823.45" font-size="12.2" text-anchor="end" font-weight="normal" fill="#4d4d4d" textLength="21.3" lengthAdjust="spacingAndGlyphs">100</text>
<line x1="65.6" y1="857.02" x2="69.8" y2="857.02" stroke="#000" stroke-width="1.6"/>
<text x="60.2" y="861.02" font-size="12.2" text-anchor="end" font-weight="normal" fill="#4d4d4d" textLength="14.2" lengthAdjust="spacingAndGlyphs">50</text>
<line x1="65.6" y1="894.6" x2="69.8" y2="894.6" stroke="#000" stroke-width="1.6"/>
<text x="60.2" y="898.6" font-size="12.2" text-anchor="end" font-weight="normal" fill="#4d4d4d" textLength="7.1" lengthAdjust="spacingAndGlyphs">0</text>
<text x="100" y="909.8" font-size="12" text-anchor="middle" font-weight="normal" fill="#2a2a2a" textLength="42.6" lengthAdjust="spacingAndGlyphs">baseline</text>
<text x="160.6" y="909.8" font-size="12" text-anchor="middle" font-weight="normal" fill="#2a2a2a" textLength="13.4" lengthAdjust="spacingAndGlyphs">d1</text>
<text x="223.7" y="909.8" font-size="12" text-anchor="middle" font-weight="normal" fill="#2a2a2a" textLength="13.6" lengthAdjust="spacingAndGlyphs">d2</text>
<line x1="130" y1="913.8" x2="237.7" y2="913.8" stroke="#000" stroke-width="1.6"/>
<text x="183.7" y="929" font-size="12" text-anchor="middle" font-weight="normal" fill="#2a2a2a" textLength="61" lengthAdjust="spacingAndGlyphs">Clopidogrel</text>
<path d="M165.65 785 L164.85 793.4 M167.65 785 L166.85 793.4 M162.75 788 L169.25 788 M162.55 790.5 L169.05 790.5 M173.95 785 L173.15 793.4 M175.95 785 L175.15 793.4 M171.05 788 L177.55 788 M170.85 790.5 L177.35 790.5 M182.25 785 L181.45 793.4 M184.25 785 L183.45 793.4 M179.35 788 L185.85 788 M179.15 790.5 L185.65 790.5 " stroke="#1e1e1e" stroke-width="1.15" fill="none"/>
<polygon points="169.85,798.15 170.51,799.59 172.08,799.77 170.92,800.85 171.23,802.4 169.85,801.63 168.47,802.4 168.78,800.85 167.62,799.77 169.19,799.59" fill="#1e1e1e"/>
<polygon points="174.3,798.15 174.96,799.59 176.53,799.77 175.37,800.85 175.68,802.4 174.3,801.63 172.92,802.4 173.23,800.85 172.07,799.77 173.64,799.59" fill="#1e1e1e"/>
<polygon points="178.75,798.15 179.41,799.59 180.98,799.77 179.82,800.85 180.13,802.4 178.75,801.63 177.37,802.4 177.68,800.85 176.52,799.77 178.09,799.59" fill="#1e1e1e"/>
<path d="M215.15 792.2 L214.35 800.6 M217.15 792.2 L216.35 800.6 M212.25 795.2 L218.75 795.2 M212.05 797.7 L218.55 797.7 M223.45 792.2 L222.65 800.6 M225.45 792.2 L224.65 800.6 M220.55 795.2 L227.05 795.2 M220.35 797.7 L226.85 797.7 M231.75 792.2 L230.95 800.6 M233.75 792.2 L232.95 800.6 M228.85 795.2 L235.35 795.2 M228.65 797.7 L235.15 797.7 " stroke="#1e1e1e" stroke-width="1.15" fill="none"/>
<polygon points="219.55,804.45 220.21,805.89 221.78,806.07 220.62,807.15 220.93,808.7 219.55,807.93 218.17,808.7 218.48,807.15 217.32,806.07 218.89,805.89" fill="#1e1e1e"/>
<polygon points="224,804.45 224.66,805.89 226.23,806.07 225.07,807.15 225.38,808.7 224,807.93 222.62,808.7 222.93,807.15 221.77,806.07 223.34,805.89" fill="#1e1e1e"/>
<polygon points="228.45,804.45 229.11,805.89 230.68,806.07 229.52,807.15 229.83,808.7 228.45,807.93 227.07,808.7 227.38,807.15 226.22,806.07 227.79,805.89" fill="#1e1e1e"/>
<text transform="translate(30.2 798.6) rotate(-90)" x="0" y="0" font-size="14" text-anchor="middle" fill="#1a1a1a" stroke="#1a1a1a" stroke-width="0.3" textLength="67.3" lengthAdjust="spacingAndGlyphs">Thrombin [nM]</text>
<rect x="336.8" y="777.5" width="28.6" height="118" fill="#A8002D"/>
<rect x="389.5" y="740.5" width="28.8" height="155" fill="#2E4D86"/>
<rect x="418.3" y="853" width="29.2" height="42.5" fill="#6BAA47"/>
<rect x="466.8" y="860" width="28.7" height="35.5" fill="#57276A"/>
<line x1="351.1" y1="777.5" x2="351.1" y2="763.5" stroke="#000" stroke-width="1.55"/>
<line x1="347.1" y1="763.5" x2="355.1" y2="763.5" stroke="#000" stroke-width="1.8"/>
<line x1="403.9" y1="740.5" x2="403.9" y2="719.3" stroke="#000" stroke-width="1.55"/>
<line x1="399.9" y1="719.3" x2="407.9" y2="719.3" stroke="#000" stroke-width="1.8"/>
<line x1="432.9" y1="853" x2="432.9" y2="845.5" stroke="#000" stroke-width="1.55"/>
<line x1="428.9" y1="845.5" x2="436.9" y2="845.5" stroke="#000" stroke-width="1.8"/>
<line x1="481.15" y1="860" x2="481.15" y2="851" stroke="#000" stroke-width="1.55"/>
<line x1="477.15" y1="851" x2="485.15" y2="851" stroke="#000" stroke-width="1.8"/>
<line x1="326.9" y1="706" x2="326.9" y2="896.4" stroke="#000" stroke-width="2"/>
<line x1="322.3" y1="895.5" x2="509.1" y2="895.5" stroke="#000" stroke-width="2"/>
<line x1="322.7" y1="710.85" x2="326.9" y2="710.85" stroke="#000" stroke-width="1.6"/>
<text x="317.3" y="714.85" font-size="12.2" text-anchor="end" font-weight="normal" fill="#4d4d4d" textLength="21.3" lengthAdjust="spacingAndGlyphs">100</text>
<line x1="322.7" y1="757.01" x2="326.9" y2="757.01" stroke="#000" stroke-width="1.6"/>
<text x="317.3" y="761.01" font-size="12.2" text-anchor="end" font-weight="normal" fill="#4d4d4d" textLength="14.2" lengthAdjust="spacingAndGlyphs">75</text>
<line x1="322.7" y1="803.17" x2="326.9" y2="803.17" stroke="#000" stroke-width="1.6"/>
<text x="317.3" y="807.17" font-size="12.2" text-anchor="end" font-weight="normal" fill="#4d4d4d" textLength="14.2" lengthAdjust="spacingAndGlyphs">50</text>
<line x1="322.7" y1="849.34" x2="326.9" y2="849.34" stroke="#000" stroke-width="1.6"/>
<text x="317.3" y="853.34" font-size="12.2" text-anchor="end" font-weight="normal" fill="#4d4d4d" textLength="14.2" lengthAdjust="spacingAndGlyphs">25</text>
<line x1="322.7" y1="895.5" x2="326.9" y2="895.5" stroke="#000" stroke-width="1.6"/>
<text x="317.3" y="899.5" font-size="12.2" text-anchor="end" font-weight="normal" fill="#4d4d4d" textLength="7.1" lengthAdjust="spacingAndGlyphs">0</text>
<text x="350.8" y="910.6" font-size="12" text-anchor="middle" font-weight="normal" fill="#2a2a2a" textLength="42.6" lengthAdjust="spacingAndGlyphs">baseline</text>
<text x="414.2" y="910.6" font-size="12" text-anchor="middle" font-weight="normal" fill="#2a2a2a" textLength="13.4" lengthAdjust="spacingAndGlyphs">d1</text>
<text x="480.2" y="910.6" font-size="12" text-anchor="middle" font-weight="normal" fill="#2a2a2a" textLength="13.6" lengthAdjust="spacingAndGlyphs">d2</text>
<line x1="388.5" y1="914.2" x2="496" y2="914.2" stroke="#000" stroke-width="1.6"/>
<text x="446" y="926.6" font-size="12" text-anchor="middle" font-weight="normal" fill="#2a2a2a" textLength="61" lengthAdjust="spacingAndGlyphs">Clopidogrel</text>
<path d="M430.9 819 L430.1 827.4 M432.9 819 L432.1 827.4 M428 822 L434.5 822 M427.8 824.5 L434.3 824.5 M439.2 819 L438.4 827.4 M441.2 819 L440.4 827.4 M436.3 822 L442.8 822 M436.1 824.5 L442.6 824.5 " stroke="#1e1e1e" stroke-width="1.15" fill="none"/>
<polygon points="430.55,832.55 431.21,833.99 432.78,834.17 431.62,835.25 431.93,836.8 430.55,836.03 429.17,836.8 429.48,835.25 428.32,834.17 429.89,833.99" fill="#1e1e1e"/>
<polygon points="435,832.55 435.66,833.99 437.23,834.17 436.07,835.25 436.38,836.8 435,836.03 433.62,836.8 433.93,835.25 432.77,834.17 434.34,833.99" fill="#1e1e1e"/>
<polygon points="439.45,832.55 440.11,833.99 441.68,834.17 440.52,835.25 440.83,836.8 439.45,836.03 438.07,836.8 438.38,835.25 437.22,834.17 438.79,833.99" fill="#1e1e1e"/>
<path d="M473.55 825.9 L472.75 834.3 M475.55 825.9 L474.75 834.3 M470.65 828.9 L477.15 828.9 M470.45 831.4 L476.95 831.4 M481.85 825.9 L481.05 834.3 M483.85 825.9 L483.05 834.3 M478.95 828.9 L485.45 828.9 M478.75 831.4 L485.25 831.4 M490.15 825.9 L489.35 834.3 M492.15 825.9 L491.35 834.3 M487.25 828.9 L493.75 828.9 M487.05 831.4 L493.55 831.4 " stroke="#1e1e1e" stroke-width="1.15" fill="none"/>
<polygon points="477.65,838.45 478.31,839.89 479.88,840.07 478.72,841.15 479.03,842.7 477.65,841.93 476.27,842.7 476.58,841.15 475.42,840.07 476.99,839.89" fill="#1e1e1e"/>
<polygon points="482.1,838.45 482.76,839.89 484.33,840.07 483.17,841.15 483.48,842.7 482.1,841.93 480.72,842.7 481.03,841.15 479.87,840.07 481.44,839.89" fill="#1e1e1e"/>
<polygon points="486.55,838.45 487.21,839.89 488.78,840.07 487.62,841.15 487.93,842.7 486.55,841.93 485.17,842.7 485.48,841.15 484.32,840.07 485.89,839.89" fill="#1e1e1e"/>
<text transform="translate(287.8 801.6) rotate(-90)" x="0" y="0" font-size="14" text-anchor="middle" fill="#1a1a1a" stroke="#1a1a1a" stroke-width="0.3" textLength="100.2" lengthAdjust="spacingAndGlyphs">Velocity [nM/minutes]</text>
<rect x="368.9" y="646.6" width="11.9" height="10.5" fill="#2E4D86"/>
<text x="386.2" y="656" font-size="11.6" text-anchor="start" font-weight="normal" fill="#222" textLength="34" lengthAdjust="spacingAndGlyphs">DMSO</text>
<rect x="368.9" y="663.9" width="11.9" height="10.5" fill="#6BAA47"/>
<text x="386.2" y="673.3" font-size="11.6" text-anchor="start" font-weight="normal" fill="#222" textLength="100.6" lengthAdjust="spacingAndGlyphs">Rivaroxaban (<tspan font-style="italic">in vitro</tspan>)</text>
<rect x="368.9" y="682.3" width="11.9" height="10.5" fill="#57276A"/>
<text x="386.2" y="691.7" font-size="11.6" text-anchor="start" font-weight="normal" fill="#222" textLength="99.5" lengthAdjust="spacingAndGlyphs">Rivaroxaban (<tspan font-style="italic">in vivo</tspan>)</text>
<rect x="1" y="1" width="518" height="941" fill="none" stroke="#000" stroke-width="2"/>
</svg></body></html>
